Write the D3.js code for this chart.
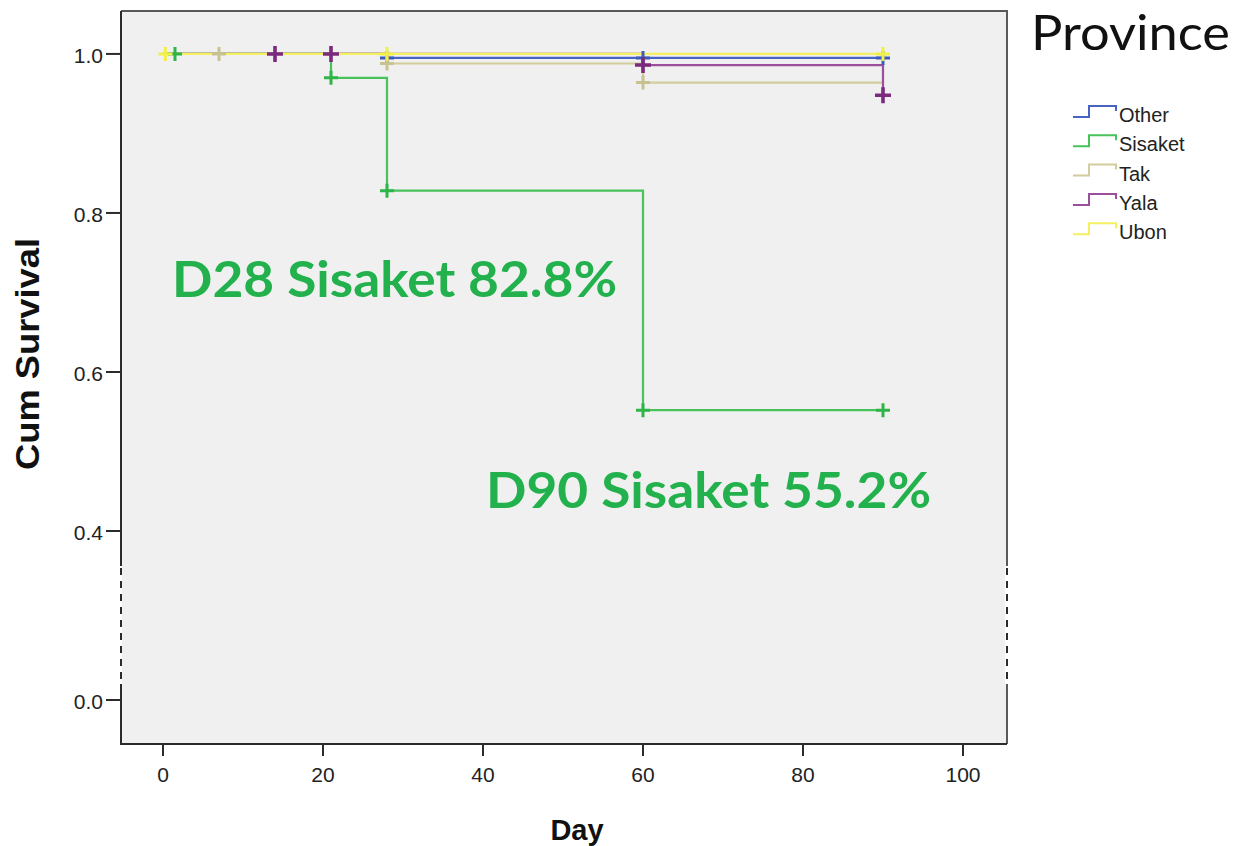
<!DOCTYPE html>
<html>
<head>
<meta charset="utf-8">
<script src="https://cdn.jsdelivr.net/npm/d3@7"></script>
<style>
  body { margin: 0; background: #fff; }
  svg { display: block; }
</style>
</head>
<body>
<svg id="chart" width="1236" height="846"></svg>
<script>
// survival data (day, cumulative survival)
const provinces = ['Other', 'Sisaket', 'Tak', 'Yala', 'Ubon'];
const lineColors = ['#4763c4', '#48c25a', '#d3cc9c', '#9b4f9d', '#f4f060'];
const crossColors = ['#3f5bb8', '#2fb547', '#c8c190', '#7b2a7e', '#f2ee4a'];

const otherSteps = [[0, 1.0], [28, 0.995]];
const sisaketSteps = [[0, 1.0], [21, 0.970], [28, 0.828], [60, 0.552]];
const takSteps = [[0, 1.0], [28, 0.988], [60, 0.964]];
const yalaSteps = [[0, 1.0], [60, 0.986], [90, 0.948]];
const ubonSteps = [[0, 1.0]];
const lastDay = [90, 90, 90, 90, 90];

const otherCensored = [28, 60, 90];
const sisaketCensored = [1.5, 21, 28, 60, 90];
const takCensored = [7, 28, 60];
const yalaCensored = [14, 21, 60, 90];
const ubonCensored = [0.3, 28, 90];

const xTicks = [0, 20, 40, 60, 80, 100];
const yTicks = [0.0, 0.4, 0.6, 0.8, 1.0];

const annotations = [
  { text: 'D28 Sisaket 82.8%', day: 28, surv: 0.828 },
  { text: 'D90 Sisaket 55.2%', day: 90, surv: 0.552 },
];

const steps = [otherSteps, sisaketSteps, takSteps, yalaSteps, ubonSteps];
const censored = [otherCensored, sisaketCensored, takCensored, yalaCensored, ubonCensored];

const svg = d3.select('#chart');
const plot = { left: 121, right: 1007, top: 11, bottom: 744 };
const axisFont = 'Liberation Sans, Arial, sans-serif';

const x = d3.scaleLinear([-5.25, 105.5], [plot.left, plot.right]);
// broken y axis: 0.0 sits just below the break, above 0.4 is linear
const y = d3.scaleLinear([-0.055, 0, 0.4, 1.054], [plot.bottom, 700, 531, plot.top]);
const breakTop = 566, breakBottom = 684;

svg.append('rect')
  .attr('x', plot.left).attr('y', plot.top)
  .attr('width', plot.right - plot.left).attr('height', plot.bottom - plot.top)
  .attr('fill', '#f0f0f0');

// frame: top and right lighter, left and bottom dark
svg.append('path')
  .attr('d', `M${plot.left},${plot.top}H${plot.right}V${plot.bottom}`)
  .attr('fill', 'none').attr('stroke', '#5a5a5a').attr('stroke-width', 2);
svg.append('path')
  .attr('d', `M${plot.left},${plot.top}V${plot.bottom}H${plot.right}`)
  .attr('fill', 'none').attr('stroke', '#2b2b2b').attr('stroke-width', 2);

// axis break
[plot.left, plot.right].forEach((bx) => {
  svg.append('rect').attr('x', bx - 2).attr('y', breakTop).attr('width', bx === plot.left ? 3 : 7)
    .attr('height', breakBottom - breakTop).attr('fill', '#ffffff');
  svg.append('line').attr('x1', bx).attr('x2', bx).attr('y1', breakTop + 2).attr('y2', breakBottom)
    .attr('stroke', '#2b2b2b').attr('stroke-width', 2).attr('stroke-dasharray', '7,6');
});

// y ticks
const yAxis = svg.append('g').attr('class', 'y-axis');
yTicks.forEach((t) => {
  yAxis.append('line').attr('x1', plot.left - 15).attr('x2', plot.left).attr('y1', y(t)).attr('y2', y(t))
    .attr('stroke', '#2b2b2b').attr('stroke-width', 2);
  yAxis.append('text').attr('x', plot.left - 18).attr('y', y(t) + 9)
    .attr('text-anchor', 'end').attr('font-family', axisFont)
    .attr('font-size', 21).attr('fill', '#222').text(d3.format('.1f')(t));
});

// x ticks
const xAxis = svg.append('g').attr('class', 'x-axis');
xTicks.forEach((t) => {
  xAxis.append('line').attr('x1', x(t)).attr('x2', x(t)).attr('y1', plot.bottom).attr('y2', plot.bottom + 12)
    .attr('stroke', '#2b2b2b').attr('stroke-width', 2);
  xAxis.append('text').attr('x', x(t)).attr('y', plot.bottom + 38)
    .attr('text-anchor', 'middle').attr('font-family', axisFont)
    .attr('font-size', 21).attr('fill', '#222').text(t);
});

svg.append('text').attr('x', 577).attr('y', 840).attr('text-anchor', 'middle')
  .attr('font-family', axisFont).attr('font-weight', 'bold')
  .attr('font-size', 29).attr('fill', '#111').text('Day');
svg.append('text').attr('transform', `translate(39,${354}) rotate(-90)`).attr('text-anchor', 'middle')
  .attr('font-family', axisFont).attr('font-weight', 'bold')
  .attr('font-size', 33).attr('fill', '#111')
  .attr('textLength', 232).attr('lengthAdjust', 'spacingAndGlyphs').text('Cum Survival');

// step curves
function stepPath(s, end) {
  let d = `M${x(s[0][0])},${y(s[0][1])}`;
  for (let i = 1; i < s.length; i++) {
    d += `H${x(s[i][0])}V${y(s[i][1])}`;
  }
  d += `H${x(end)}`;
  return d;
}

function survAt(s, day) {
  let v = s[0][1];
  s.forEach(([t, p]) => { if (t <= day) v = p; });
  return v;
}

const curves = svg.append('g').attr('class', 'curves');
steps.forEach((s, i) => {
  curves.append('path').attr('d', stepPath(s, lastDay[i]))
    .attr('fill', 'none').attr('stroke', lineColors[i]).attr('stroke-width', 2.2);
});

const marks = svg.append('g').attr('class', 'censor');
censored.forEach((days, i) => {
  days.forEach((dd) => {
    const cx = x(dd), cy = y(survAt(steps[i], dd));
    const arm = i === 3 ? 8 : 7;
    marks.append('path')
      .attr('d', `M${cx - arm},${cy}H${cx + arm}M${cx},${cy - arm}V${cy + arm}`)
      .attr('stroke', crossColors[i]).attr('stroke-width', i === 3 ? 3.6 : 3).attr('fill', 'none');
  });
});

// annotations
const annX = [172, 486];
const annY = [297, 508];
annotations.forEach((a, i) => {
  svg.append('text').attr('x', annX[i]).attr('y', annY[i])
    .attr('font-family', 'Lato, Open Sans, sans-serif').attr('font-weight', 'bold')
    .attr('font-size', 50).attr('fill', '#22b14c')
    .attr('textLength', 445).attr('lengthAdjust', 'spacingAndGlyphs')
    .text(a.text);
});

// legend
svg.append('text').attr('x', 1031).attr('y', 50)
  .attr('font-family', 'Lato, Open Sans, sans-serif').attr('font-size', 48).attr('fill', '#111')
  .attr('textLength', 199).attr('lengthAdjust', 'spacingAndGlyphs').text('Province');

const legend = svg.append('g').attr('class', 'legend');
provinces.forEach((p, i) => {
  const ly = 115 + i * 29.3;
  legend.append('path')
    .attr('d', `M1073,${ly + 2}H1089V${ly - 9}H1116V${ly - 4}`)
    .attr('fill', 'none').attr('stroke', lineColors[i]).attr('stroke-width', 2);
  legend.append('text').attr('x', 1119).attr('y', ly + 7)
    .attr('font-family', axisFont).attr('font-size', 20).attr('fill', '#222')
    .text(p);
});
</script>
</body>
</html>
